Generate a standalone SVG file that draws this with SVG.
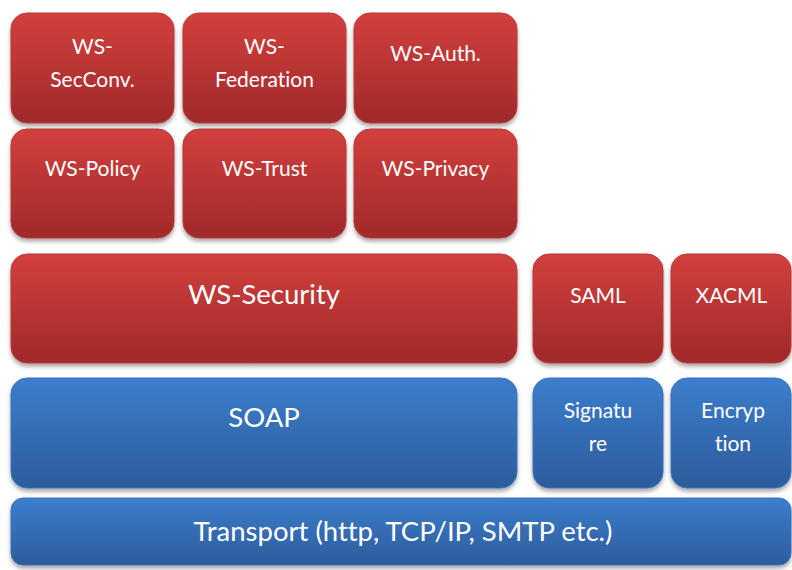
<svg xmlns="http://www.w3.org/2000/svg" width="792" height="570" viewBox="0 0 792 570">
  <defs>
    <linearGradient id="redFill" x1="0" y1="0" x2="0" y2="1">
      <stop offset="0" stop-color="#d2403d"/>
      <stop offset="1" stop-color="#a0292a"/>
    </linearGradient>
    <linearGradient id="blueFill" x1="0" y1="0" x2="0" y2="1">
      <stop offset="0" stop-color="#3c7ecd"/>
      <stop offset="1" stop-color="#2d5b9b"/>
    </linearGradient>
    <filter id="shadow" x="-10%" y="-10%" width="120%" height="130%">
      <feDropShadow dx="0" dy="3" stdDeviation="2" flood-color="#000" flood-opacity="0.35"/>
    </filter>
  </defs>
  <style>
    rect { filter: url(#shadow); }
    .red rect { fill: url(#redFill); stroke: #b8393a; stroke-width: 1; }
    .blue rect { fill: url(#blueFill); stroke: #3a73bd; stroke-width: 1; }
    text { font-family: "Lato", "Open Sans", "Liberation Sans", sans-serif; fill: #ffffff; text-anchor: middle; font-variant-ligatures: none; font-feature-settings: "liga" 0, "dlig" 0; }
    .s { font-size: 21px; }
    .l { font-size: 27.5px; }
  </style>
  <rect width="792" height="570" fill="#ffffff" style="filter:none"/>

  <!-- upper protocol stack -->
  <g id="ws-secconv" class="red">
    <rect x="11" y="13" width="163" height="110" rx="16"/>
    <text class="s" x="92.5" y="54">WS-</text>
    <text class="s" x="92.5" y="87">SecConv.</text>
  </g>
  <g id="ws-federation" class="red">
    <rect x="183" y="13" width="163" height="110" rx="16"/>
    <text class="s" x="264.5" y="54">WS-</text>
    <text class="s" x="264.5" y="87">Federation</text>
  </g>
  <g id="ws-auth" class="red">
    <rect x="354" y="13" width="163" height="110" rx="16"/>
    <text class="s" x="435.5" y="61">WS-Auth.</text>
  </g>

  <g id="ws-policy" class="red">
    <rect x="11" y="129" width="163" height="109" rx="16"/>
    <text class="s" x="92.5" y="176">WS-Policy</text>
  </g>
  <g id="ws-trust" class="red">
    <rect x="183" y="129" width="163" height="109" rx="16"/>
    <text class="s" x="264.5" y="176">WS-Trust</text>
  </g>
  <g id="ws-privacy" class="red">
    <rect x="354" y="129" width="163" height="109" rx="16"/>
    <text class="s" x="435.5" y="176">WS-Privacy</text>
  </g>

  <g id="ws-security" class="red">
    <rect x="11" y="254" width="506" height="109" rx="16"/>
    <text class="l" x="264" y="304">WS-Security</text>
  </g>
  <g id="saml" class="red">
    <rect x="533" y="254" width="130" height="109" rx="16"/>
    <text class="s" x="598" y="303">SAML</text>
  </g>
  <g id="xacml" class="red">
    <rect x="671" y="254" width="120" height="109" rx="16"/>
    <text class="s" x="731.5" y="303">XACML</text>
  </g>

  <!-- messaging and transport layers -->
  <g id="soap" class="blue">
    <rect x="11" y="378" width="506" height="110" rx="16"/>
    <text class="l" x="264" y="427">SOAP</text>
  </g>
  <g id="signature" class="blue">
    <rect x="533" y="378" width="130" height="110" rx="16"/>
    <text class="s" x="598" y="418">Signatu</text>
    <text class="s" x="598" y="451">re</text>
  </g>
  <g id="encryption" class="blue">
    <rect x="671" y="378" width="120" height="110" rx="16"/>
    <text class="s" x="733" y="418">Encryp</text>
    <text class="s" x="733" y="451">tion</text>
  </g>

  <g id="transport" class="blue">
    <rect x="11" y="498" width="780" height="67" rx="12"/>
    <text class="l" x="403" y="541">Transport (http, TCP/IP, SMTP etc.)</text>
  </g>

  <g id="connectors"/>
</svg>
